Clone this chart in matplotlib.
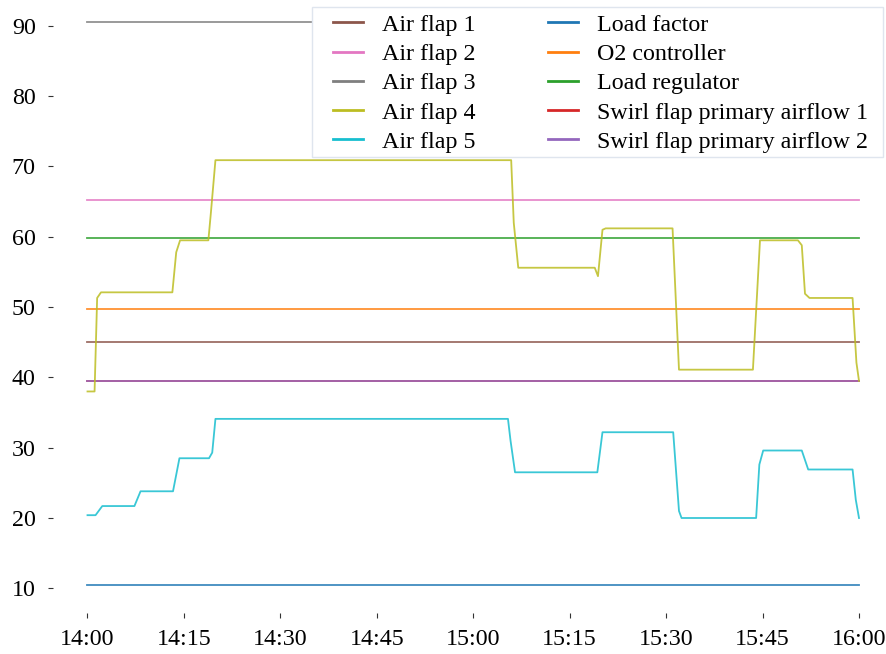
import matplotlib
matplotlib.use("Agg")
import matplotlib.pyplot as plt
from matplotlib.patches import Rectangle
import pandas as pd

plt.rcParams['font.family'] = ['Liberation Serif', 'DejaVu Serif']

start = pd.Timestamp("2023-01-01 14:00")
end = pd.Timestamp("2023-01-01 16:00")

# constant series (value over whole window)
load_factor = 10.5
o2_controller = 49.8
load_regulator = 59.9
swirl_flap_1 = 39.5
swirl_flap_2 = 39.5
air_flap_1 = 45.0
air_flap_2 = 65.3
air_flap_3 = 90.6

# Air flap 4: minutes after 14:00 and values
af4_min = [0, 1.1, 1.5, 2.1, 13.2, 13.8, 14.4, 18.8, 19.2, 19.9, 65.9, 66.3, 67.0,
           78.9, 79.4, 80.1, 80.6, 91.0, 92.0, 103.5, 104.6, 110.5, 111.1, 111.6,
           112.3, 119.0, 119.6, 120.0]
af4_val = [38.0, 38.0, 51.3, 52.1, 52.1, 57.8, 59.5, 59.5, 63.5, 70.9, 70.9, 62.0, 55.6,
           55.6, 54.4, 61.0, 61.2, 61.2, 41.1, 41.1, 59.5, 59.5, 58.8, 51.9,
           51.3, 51.3, 42.1, 39.5]

# Air flap 5
af5_min = [0, 1.25, 2.3, 7.3, 8.25, 13.3, 14.3, 18.9, 19.4, 19.9, 65.4, 65.8, 66.5,
           79.3, 80.1, 91.1, 92.0, 92.4, 104.0, 104.5, 105.1, 111.1, 112.1,
           119.0, 119.5, 120.0]
af5_val = [20.4, 20.4, 21.7, 21.7, 23.8, 23.8, 28.5, 28.5, 29.3, 34.1, 34.1, 31.0, 26.5,
           26.5, 32.2, 32.2, 21.0, 20.0, 20.0, 27.6, 29.6, 29.6, 26.9,
           26.9, 22.6, 20.0]

x_ticks = ["14:00", "14:15", "14:30", "14:45", "15:00", "15:15", "15:30", "15:45", "16:00"]
y_ticks = [10, 20, 30, 40, 50, 60, 70, 80, 90]

W, H = 887, 654
fig = plt.figure(figsize=(W / 100, H / 100), dpi=100)
ax_left, ax_right, ax_top, ax_bottom = 53, 887, 0, 613
ax = fig.add_axes([ax_left / W, 1 - ax_bottom / H, (ax_right - ax_left) / W, (ax_bottom - ax_top) / H])

def t(mins):
    return [start + pd.Timedelta(minutes=m) for m in mins]

flat_t = [start, end]
lw = 1.3
al = 0.85
handles = {}
for name, val, col in [("Load factor", load_factor, "tab:blue"),
                       ("O2 controller", o2_controller, "tab:orange"),
                       ("Load regulator", load_regulator, "tab:green"),
                       ("Swirl flap primary airflow 1", swirl_flap_1, "tab:red"),
                       ("Swirl flap primary airflow 2", swirl_flap_2, "tab:purple"),
                       ("Air flap 1", air_flap_1, "tab:brown"),
                       ("Air flap 2", air_flap_2, "tab:pink"),
                       ("Air flap 3", air_flap_3, "tab:gray")]:
    handles[name], = ax.plot(flat_t, [val, val], color=col, lw=lw, alpha=al, label=name)
handles["Air flap 4"], = ax.plot(t(af4_min), af4_val, color="tab:olive", lw=lw, alpha=al, label="Air flap 4")
handles["Air flap 5"], = ax.plot(t(af5_min), af5_val, color="tab:cyan", lw=lw, alpha=al, label="Air flap 5")

order = ["Air flap 1", "Air flap 2", "Air flap 3", "Air flap 4", "Air flap 5",
         "Load factor", "O2 controller", "Load regulator",
         "Swirl flap primary airflow 1", "Swirl flap primary airflow 2"]
leg = ax.legend([handles[k] for k in order], order, ncol=2, loc="upper right",
                bbox_to_anchor=(883 / W, 1 + 1.0 / H), bbox_transform=fig.transFigure,
                fontsize=17.3, frameon=False,
                borderaxespad=0, borderpad=0.62, numpoints=2,
                handlelength=1.85, handletextpad=0.5, labelspacing=0.31,
                columnspacing=2.7)
for lh in leg.get_lines():
    lh.set_alpha(1)
    lh.set_linewidth(2)

# legend box (white background with light border)
frame = Rectangle((311.7 / W, 1 - 157.3 / H), (883 - 311.7) / W, (157.3 - 7.3) / H,
                  transform=fig.transFigure, facecolor="white", edgecolor="#dfe5ee",
                  linewidth=1.0, zorder=4.5, clip_on=False)
ax.add_patch(frame)

# axis scaling from pixel positions
x_start_px, x_end_px = 87.5, 859
px_per_min = (x_end_px - x_start_px) / 120
x0 = start - pd.Timedelta(minutes=(x_start_px - ax_left) / px_per_min)
x1 = start + pd.Timedelta(minutes=(ax_right - x_start_px) / px_per_min)
ax.set_xlim(x0, x1)
px_per_unit = 7.03
ax.set_ylim(10 - (ax_bottom - 588.3) / px_per_unit, 10 + (588.3 - ax_top) / px_per_unit)

ax.set_xticks([start + pd.Timedelta(minutes=15 * i) for i in range(len(x_ticks))])
ax.set_xticklabels(x_ticks)
ax.set_yticks(y_ticks)
ax.set_yticklabels([str(v) for v in y_ticks])
ax.tick_params(axis="both", labelsize=17.3, length=3.5, width=0.8, color="#333333")
ax.tick_params(axis="x", pad=8)
ax.tick_params(axis="y", pad=9)
for s in ax.spines.values():
    s.set_visible(False)

fig.savefig("out.png", dpi=100)
